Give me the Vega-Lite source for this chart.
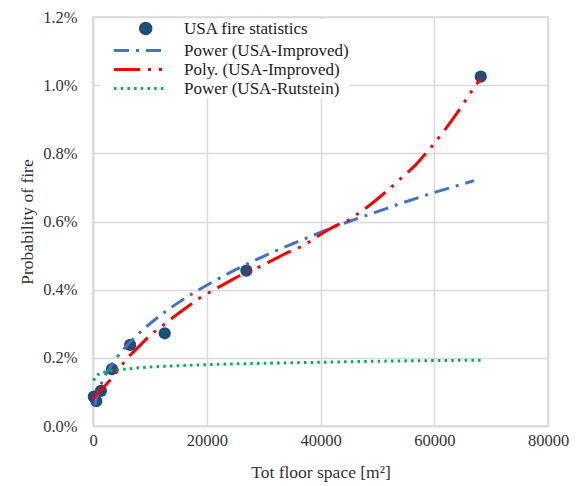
{
  "$schema": "https://vega.github.io/schema/vega-lite/v6.json",
  "width": 455,
  "height": 409,
  "autosize": "none",
  "padding": {"left": 93, "top": 17, "right": 34, "bottom": 60},
  "config": {
    "font": "Liberation Serif",
    "view": {"stroke": "#d9d9d9", "strokeWidth": 1.5},
    "axis": {
      "labelFont": "Liberation Serif",
      "titleFont": "Liberation Serif",
      "labelFontSize": 16.5,
      "titleFontSize": 17.5,
      "titleFontWeight": "normal",
      "labelColor": "#333333",
      "titleColor": "#333333",
      "ticks": false,
      "domainColor": "#d9d9d9",
      "domainWidth": 1.5,
      "gridColor": "#d9d9d9",
      "gridWidth": 1.5
    }
  },
  "encoding": {
    "x": {
      "field": "x",
      "type": "quantitative",
      "scale": {"domain": [0, 80000]},
      "axis": {"values": [0, 20000, 40000, 60000, 80000], "format": "d", "title": "Tot floor space [m²]", "labelFlush": false, "labelPadding": 6, "titlePadding": 15}
    },
    "y": {
      "field": "y",
      "type": "quantitative",
      "scale": {"domain": [0, 0.012]},
      "axis": {"values": [0, 0.002, 0.004, 0.006, 0.008, 0.01, 0.012], "format": ".1%", "title": "Probability of fire", "labelPadding": 16, "titlePadding": 6}
    }
  },
  "layer": [
    {
      "data": {"values": [
        {"series": "USA fire statistics", "x": 150, "y": 0.00086},
        {"series": "USA fire statistics", "x": 580, "y": 0.00073},
        {"series": "USA fire statistics", "x": 1400, "y": 0.00103},
        {"series": "USA fire statistics", "x": 3330, "y": 0.00167},
        {"series": "USA fire statistics", "x": 6530, "y": 0.00238},
        {"series": "USA fire statistics", "x": 12610, "y": 0.00272},
        {"series": "USA fire statistics", "x": 26970, "y": 0.00456},
        {"series": "USA fire statistics", "x": 68180, "y": 0.01025}
      ]},
      "mark": {"type": "point", "filled": true, "opacity": 1, "size": 150, "shape": "circle"},
      "encoding": {
        "color": {
          "field": "series",
          "type": "nominal",
          "scale": {
            "domain": ["USA fire statistics", "Power (USA-Improved)", "Poly. (USA-Improved)", "Power (USA-Rutstein)"],
            "range": ["#1f4e79", "#4472c4", "#ff0000", "#00b050"]
          },
          "legend": {
            "orient": "none",
            "legendX": 7,
            "legendY": 2,
            "title": null,
            "fillColor": "white",
            "padding": 1,
            "labelFont": "Liberation Serif",
            "labelFontSize": 17,
            "labelColor": "#222222",
            "labelLimit": 400,
            "symbolSize": 100,
            "symbolStrokeWidth": 3,
            "labelOffset": 66,
            "rowPadding": 1,
            "encoding": {
              "symbols": {
                "shape": {"condition": {"test": "datum.value === 'USA fire statistics'", "value": "M6.2,0A1.04,1.04,0,1,1,8.28,0A1.04,1.04,0,1,1,6.2,0Z"}, "value": "M0.9,0H11.5"},
                "strokeDash": {"condition": [
                  {"test": "datum.value === 'Power (USA-Improved)'", "value": [15, 7, 3, 7]},
                  {"test": "datum.value === 'Poly. (USA-Improved)'", "value": [26, 8, 3, 8, 3, 8]},
                  {"test": "datum.value === 'Power (USA-Rutstein)'", "value": [2.5, 4.2]}
                ], "value": [1, 0]},
                "fill": {"condition": {"test": "datum.value === 'USA fire statistics'", "value": "#1f4e79"}, "value": "transparent"},
                "stroke": {"condition": [
                  {"test": "datum.value === 'USA fire statistics'", "value": "#1f4e79"},
                  {"test": "datum.value === 'Power (USA-Improved)'", "value": "#4472c4"},
                  {"test": "datum.value === 'Poly. (USA-Improved)'", "value": "#ff0000"}
                ], "value": "#00b050"},
                "opacity": {"value": 1}
              }
            }
          }
        }
      }
    },
    {
      "data": {"values": [
        {"series": "Power (USA-Improved)", "x": 300, "y": 0.0006},
        {"series": "Power (USA-Improved)", "x": 600, "y": 0.00082},
        {"series": "Power (USA-Improved)", "x": 1000, "y": 0.00104},
        {"series": "Power (USA-Improved)", "x": 2000, "y": 0.00143},
        {"series": "Power (USA-Improved)", "x": 3500, "y": 0.00185},
        {"series": "Power (USA-Improved)", "x": 5000, "y": 0.00218},
        {"series": "Power (USA-Improved)", "x": 7500, "y": 0.00263},
        {"series": "Power (USA-Improved)", "x": 10000, "y": 0.003},
        {"series": "Power (USA-Improved)", "x": 15000, "y": 0.00362},
        {"series": "Power (USA-Improved)", "x": 20000, "y": 0.00413},
        {"series": "Power (USA-Improved)", "x": 25000, "y": 0.00458},
        {"series": "Power (USA-Improved)", "x": 30000, "y": 0.00498},
        {"series": "Power (USA-Improved)", "x": 35000, "y": 0.00534},
        {"series": "Power (USA-Improved)", "x": 40000, "y": 0.00568},
        {"series": "Power (USA-Improved)", "x": 45000, "y": 0.006},
        {"series": "Power (USA-Improved)", "x": 50000, "y": 0.00629},
        {"series": "Power (USA-Improved)", "x": 55000, "y": 0.00658},
        {"series": "Power (USA-Improved)", "x": 60000, "y": 0.00685},
        {"series": "Power (USA-Improved)", "x": 65000, "y": 0.0071},
        {"series": "Power (USA-Improved)", "x": 67000, "y": 0.0072},
        {"series": "Poly. (USA-Improved)", "x": 0, "y": 0.0008},
        {"series": "Poly. (USA-Improved)", "x": 1000, "y": 0.001},
        {"series": "Poly. (USA-Improved)", "x": 2500, "y": 0.00125},
        {"series": "Poly. (USA-Improved)", "x": 4000, "y": 0.00155},
        {"series": "Poly. (USA-Improved)", "x": 6000, "y": 0.00198},
        {"series": "Poly. (USA-Improved)", "x": 8000, "y": 0.00232},
        {"series": "Poly. (USA-Improved)", "x": 10000, "y": 0.00265},
        {"series": "Poly. (USA-Improved)", "x": 12500, "y": 0.00298},
        {"series": "Poly. (USA-Improved)", "x": 15000, "y": 0.0033},
        {"series": "Poly. (USA-Improved)", "x": 18500, "y": 0.00372},
        {"series": "Poly. (USA-Improved)", "x": 22500, "y": 0.00411},
        {"series": "Poly. (USA-Improved)", "x": 26000, "y": 0.00443},
        {"series": "Poly. (USA-Improved)", "x": 30000, "y": 0.00473},
        {"series": "Poly. (USA-Improved)", "x": 34000, "y": 0.00507},
        {"series": "Poly. (USA-Improved)", "x": 37000, "y": 0.0053},
        {"series": "Poly. (USA-Improved)", "x": 40000, "y": 0.00562},
        {"series": "Poly. (USA-Improved)", "x": 42700, "y": 0.00588},
        {"series": "Poly. (USA-Improved)", "x": 44500, "y": 0.006},
        {"series": "Poly. (USA-Improved)", "x": 46500, "y": 0.00622},
        {"series": "Poly. (USA-Improved)", "x": 48500, "y": 0.00646},
        {"series": "Poly. (USA-Improved)", "x": 51000, "y": 0.0068},
        {"series": "Poly. (USA-Improved)", "x": 54700, "y": 0.00735},
        {"series": "Poly. (USA-Improved)", "x": 56600, "y": 0.00764},
        {"series": "Poly. (USA-Improved)", "x": 59600, "y": 0.00821},
        {"series": "Poly. (USA-Improved)", "x": 62000, "y": 0.00872},
        {"series": "Poly. (USA-Improved)", "x": 64000, "y": 0.00918},
        {"series": "Poly. (USA-Improved)", "x": 66800, "y": 0.00988},
        {"series": "Poly. (USA-Improved)", "x": 68200, "y": 0.0102},
        {"series": "Power (USA-Rutstein)", "x": 100, "y": 0.00133},
        {"series": "Power (USA-Rutstein)", "x": 500, "y": 0.00145},
        {"series": "Power (USA-Rutstein)", "x": 1000, "y": 0.00152},
        {"series": "Power (USA-Rutstein)", "x": 2000, "y": 0.00158},
        {"series": "Power (USA-Rutstein)", "x": 4000, "y": 0.00164},
        {"series": "Power (USA-Rutstein)", "x": 7000, "y": 0.00169},
        {"series": "Power (USA-Rutstein)", "x": 10000, "y": 0.00173},
        {"series": "Power (USA-Rutstein)", "x": 15000, "y": 0.00177},
        {"series": "Power (USA-Rutstein)", "x": 20000, "y": 0.0018},
        {"series": "Power (USA-Rutstein)", "x": 30000, "y": 0.00184},
        {"series": "Power (USA-Rutstein)", "x": 40000, "y": 0.00187},
        {"series": "Power (USA-Rutstein)", "x": 50000, "y": 0.0019},
        {"series": "Power (USA-Rutstein)", "x": 60000, "y": 0.00192},
        {"series": "Power (USA-Rutstein)", "x": 68400, "y": 0.00193}
      ]},
      "mark": {"type": "line", "strokeWidth": 3, "interpolate": "monotone", "strokeCap": "butt"},
      "encoding": {
        "color": {"field": "series", "type": "nominal"},
        "strokeDash": {
          "field": "series",
          "type": "nominal",
          "scale": {
            "domain": ["Power (USA-Improved)", "Poly. (USA-Improved)", "Power (USA-Rutstein)"],
            "range": [[15, 7, 3, 7], [26, 8, 3, 8, 3, 8], [2.5, 4.2]]
          },
          "legend": null
        }
      }
    }
  ]
}
